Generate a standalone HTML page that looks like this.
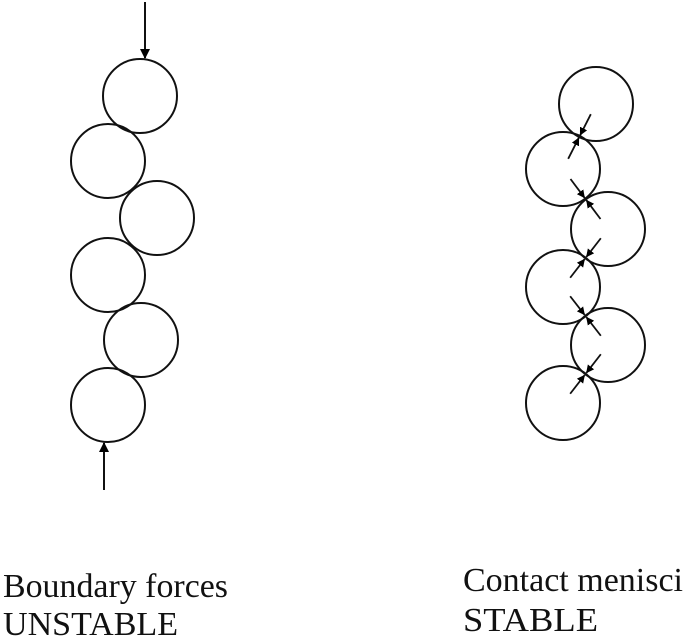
<!DOCTYPE html>
<html><head><style>html,body{margin:0;padding:0;background:#fff}svg{display:block}</style></head>
<body>
<svg width="685" height="638" viewBox="0 0 685 638" xmlns="http://www.w3.org/2000/svg">
<defs>
<marker id="ah" markerWidth="10" markerHeight="10" refX="9" refY="5" orient="auto" markerUnits="userSpaceOnUse">
<path d="M0,0 L10,5 L0,10 z" fill="#000"/></marker>
<marker id="ahs" markerWidth="8" markerHeight="8" refX="7.5" refY="4" orient="auto" markerUnits="userSpaceOnUse">
<path d="M0,0 L8,4 L0,8 z" fill="#000"/></marker>
</defs>
<g fill="none" stroke="#111" stroke-width="2">
<circle cx="140" cy="96" r="37"/>
<circle cx="108" cy="161" r="37"/>
<circle cx="157" cy="218" r="37"/>
<circle cx="108" cy="275" r="37"/>
<circle cx="141" cy="340" r="37"/>
<circle cx="108" cy="405" r="37"/>
<line x1="145" y1="2" x2="145" y2="58" marker-end="url(#ah)"/>
<line x1="104" y1="490" x2="104" y2="443" marker-end="url(#ah)"/>

<circle cx="596" cy="104" r="37"/>
<circle cx="563" cy="169" r="37"/>
<circle cx="608" cy="229" r="37"/>
<circle cx="563" cy="287" r="37"/>
<circle cx="608" cy="345" r="37"/>
<circle cx="563" cy="403" r="37"/>
</g>
<g stroke="#111" stroke-width="1.8" fill="none" id="arr"></g>
<script>
var c=[[596,104],[563,169],[608,229],[563,287],[608,345],[563,403]];
var g=document.getElementById('arr');
for(var i=0;i<5;i++){var a=c[i],b=c[i+1];var mx=(a[0]+b[0])/2,my=(a[1]+b[1])/2;
[a,b].forEach(function(p){var dx=p[0]-mx,dy=p[1]-my,d=Math.hypot(dx,dy);dx/=d;dy/=d;
var l=document.createElementNS('http://www.w3.org/2000/svg','line');
l.setAttribute('x1',mx+dx*25);l.setAttribute('y1',my+dy*25);l.setAttribute('x2',mx+dx*1.5);l.setAttribute('y2',my+dy*1.5);
l.setAttribute('marker-end','url(#ahs)');g.appendChild(l);});}
</script>
<g font-family="Liberation Serif, serif" font-size="34" fill="#111">
<text x="3" y="597" textLength="225" lengthAdjust="spacingAndGlyphs">Boundary forces</text>
<text x="3" y="635" textLength="175" lengthAdjust="spacingAndGlyphs">UNSTABLE</text>
<text x="463" y="591" textLength="220" lengthAdjust="spacingAndGlyphs">Contact menisci</text>
<text x="463" y="631" textLength="135" lengthAdjust="spacingAndGlyphs">STABLE</text>
</g>
</svg>
</body></html>
